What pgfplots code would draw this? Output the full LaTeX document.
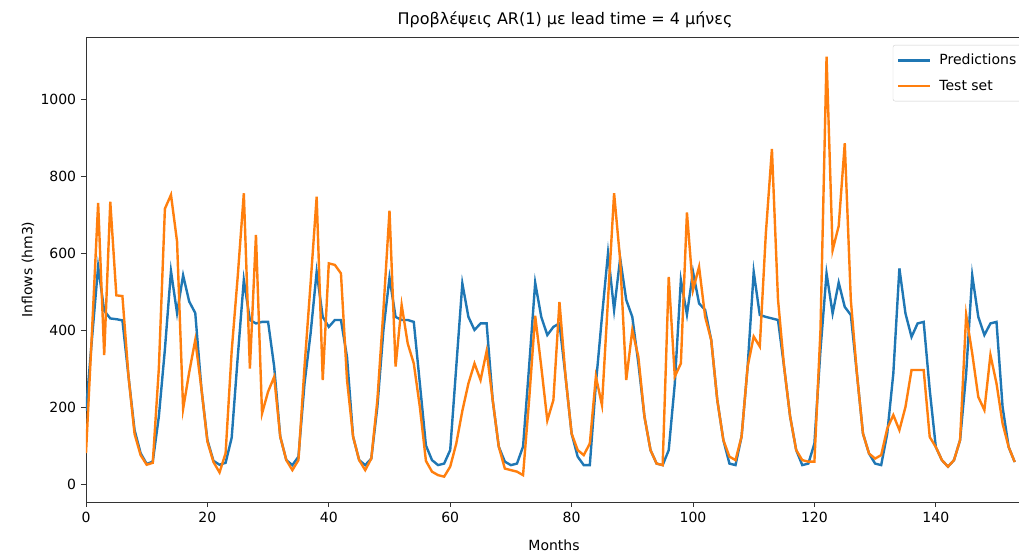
\documentclass[border=0pt]{standalone}
\usepackage{fontspec}
\setmainfont{DejaVu Sans}
\usepackage{pgfplots}
\pgfplotsset{compat=1.18}
\definecolor{mplblue}{HTML}{1F77B4}
\definecolor{mplorange}{HTML}{FF7F0E}

% predictions of the AR(1) model, lead time 4 months
\pgfplotstableread{
x y
0 190
1 380
2 565
3 450
4 430
5 428
6 425
7 280
8 140
9 80
10 52
11 58
12 175
13 350
14 553
15 444
16 542
17 474
18 444
19 250
20 114
21 60
22 50
23 55
24 120
25 330
26 530
27 426
28 417
29 421
30 421
31 305
32 123
33 62
34 49
35 71
36 261
37 391
38 551
39 434
40 408
41 426
42 426
43 330
44 123
45 62
46 49
47 66
48 200
49 400
50 536
51 434
52 426
53 426
54 421
55 261
56 100
57 62
58 49
59 53
60 88
61 305
62 521
63 434
64 400
65 417
66 417
67 218
68 97
69 58
70 49
71 53
72 97
73 305
74 523
75 434
76 387
77 408
78 417
79 279
80 131
81 71
82 49
83 49
84 260
85 434
86 600
87 452
88 586
89 478
90 434
91 313
92 175
93 88
94 53
95 49
96 88
97 261
98 530
99 440
100 551
101 469
102 452
103 374
104 218
105 114
106 53
107 49
108 123
109 305
110 551
111 439
112 434
113 430
114 426
115 305
116 175
117 88
118 49
119 53
120 105
121 348
122 547
123 443
124 523
125 460
126 439
127 287
128 131
129 79
130 53
131 49
132 131
133 287
134 560
135 443
136 382
137 417
138 421
139 244
140 96
141 62
142 45
143 62
144 114
145 287
146 542
147 434
148 387
149 417
150 421
151 200
152 96
153 57
}\pred

% observed inflows (test set)
\pgfplotstableread{
x y
0 80
1 400
2 730
3 335
4 733
5 490
6 488
7 280
8 130
9 75
10 50
11 55
12 300
13 715
14 751
15 630
16 195
17 290
18 374
19 250
20 110
21 57
22 30
23 80
24 345
25 540
26 755
27 300
28 647
29 183
30 240
31 278
32 123
33 62
34 36
35 62
36 305
37 521
38 746
39 270
40 573
41 569
42 547
43 270
44 123
45 62
46 36
47 66
48 218
49 452
50 710
51 305
52 465
53 365
54 313
55 200
56 60
57 32
58 23
59 19
60 45
61 105
62 190
63 261
64 313
65 270
66 345
67 218
68 97
69 40
70 36
71 32
72 23
73 218
74 437
75 305
76 165
77 218
78 473
79 279
80 131
81 88
82 75
83 105
84 279
85 205
86 480
87 755
88 582
89 270
90 400
91 330
92 175
93 88
94 53
95 49
96 538
97 279
98 313
99 705
100 504
101 564
102 434
103 374
104 218
105 114
106 71
107 62
108 123
109 305
110 383
111 357
112 651
113 870
114 480
115 305
116 175
117 88
118 62
119 58
120 58
121 400
122 1110
123 607
124 670
125 885
126 478
127 287
128 131
129 79
130 66
131 75
132 144
133 179
134 140
135 200
136 296
137 296
138 296
139 122
140 96
141 62
142 45
143 62
144 114
145 439
146 339
147 226
148 192
149 335
150 261
151 157
152 96
153 57
}\test

\begin{document}
\fontsize{14bp}{16bp}\selectfont
\begin{tikzpicture}
\path[use as bounding box] (-86bp,-53bp) rectangle (933bp,502bp);
\begin{axis}[
    scale only axis,
    width=936bp, height=465bp,
    xmin=0, xmax=154.2,
    ymin=-46.8, ymax=1161,
    xtick={0,20,...,140},
    ytick={0,200,...,1000},
    tick align=outside,
    xtick pos=bottom, ytick pos=left,
    major tick length=5bp,
    axis line style={black!80, line width=0.9bp},
    every tick/.style={black!80, line width=0.9bp},
    /pgf/number format/assume math mode=true,
    /pgf/number format/1000 sep={},
    title={Προβλέψεις AR(1) με lead time = 4 μήνες},
    title style={at={(axis description cs:0.5,1)}, anchor=center,
        yshift=11bp, xshift=11bp,
        font=\fontsize{16bp}{18bp}\selectfont},
    xlabel={Months},
    xlabel style={at={(axis description cs:0.5,-0.0925)}, anchor=center},
    ylabel={Inflows (hm3)},
    ylabel style={at={(axis description cs:-0.062,0.5)}, anchor=center},
    legend style={at={(0.862,0.983)}, anchor=north west,
        draw=black!20, rounded corners=2bp, fill=white,
        inner xsep=4bp, inner ysep=7bp, row sep=9bp,
        /tikz/every odd column/.append style={column sep=6bp}},
    legend image code/.code={\draw[#1] (0bp,0bp) -- (32bp,0bp);},
    legend cell align=left,
    clip=true,
]
\addplot[mplblue, line width=2.4bp] table[x=x, y=y] {\pred};
\addlegendentry{Predictions}
\addplot[mplorange, line width=2.4bp] table[x=x, y=y] {\test};
\addlegendentry{Test set}
\end{axis}
\end{tikzpicture}
\end{document}
